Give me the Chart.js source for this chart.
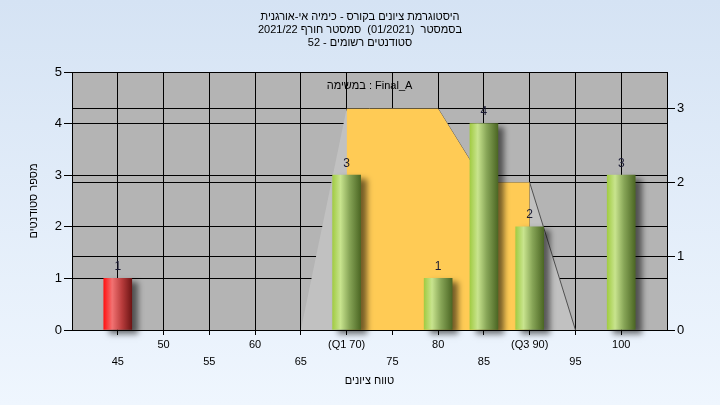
<!DOCTYPE html>
<html><head><meta charset="utf-8">
<script src="https://cdn.jsdelivr.net/npm/chart.js@4.4.0/dist/chart.umd.min.js"></script>
<style>
html,body{margin:0;padding:0;}
body{width:720px;height:405px;background:linear-gradient(to bottom,#d5e3f4,#eff6fe);overflow:hidden;}
canvas{display:block;}
</style></head><body>
<canvas id="c" width="720" height="405"></canvas>
<script>
const titleLines = ['היסטוגרמת ציונים בקורס - כימיה אי-אורגנית', 'בסמסטר  (01/2021)  סמסטר חורף 2021/22', 'סטודנטים רשומים - 52'];
const taskLabel = 'במשימה : Final_A';
const xAxisTitle = 'טווח ציונים';
const yAxisTitle = 'מספר סטודנטים';
const barGrades = [45, 70, 80, 85, 90, 100];
const barCounts = [1, 3, 1, 4, 2, 3];
const barKinds = ['fail', 'pass', 'pass', 'pass', 'pass', 'pass'];
const curveGrades = [65, 70, 75, 80, 85, 90, 95];
const curveValues = [0, 3, 3, 3, 2, 2, 0];
const quartileGrades = [70, 75, 80, 85, 90];
const quartileValues = [3, 3, 3, 2, 2];
const xTickValues = [45, 50, 55, 60, 65, 70, 75, 80, 85, 90, 95, 100];
const xTickLabels = ['45', '50', '55', '60', '65', '(Q1 70)', '75', '80', '85', '(Q3 90)', '95', '100'];
const leftTicks = [0, 1, 2, 3, 4, 5];
const rightTicks = [0, 1, 2, 3];

const FONT = "'Liberation Sans', Arial, sans-serif";

const bgPlugin = {
  id: 'bgPlugin',
  beforeDraw(chart) {
    const {ctx, chartArea: a} = chart;
    ctx.save();
    ctx.fillStyle = '#b4b4b4';
    ctx.fillRect(a.left, a.top, a.right - a.left, a.bottom - a.top);
    ctx.restore();
  }
};

const shadowPlugin = {
  id: 'shadowPlugin',
  beforeDatasetDraw(chart, args) {
    if (args.index !== 0) return;
    const ctx = chart.ctx;
    ctx.save();
    ctx.shadowColor = 'rgba(0,0,0,0.55)';
    ctx.shadowBlur = 6;
    ctx.shadowOffsetX = 6;
    ctx.shadowOffsetY = 4;
  },
  afterDatasetDraw(chart, args) {
    if (args.index !== 0) return;
    chart.ctx.restore();
  }
};

const labelPlugin = {
  id: 'labelPlugin',
  afterDatasetsDraw(chart) {
    const ctx = chart.ctx;
    const meta = chart.getDatasetMeta(0);
    ctx.save();
    ctx.font = '12px ' + FONT;
    ctx.fillStyle = '#1a1a33';
    ctx.textAlign = 'center';
    ctx.textBaseline = 'middle';
    meta.data.forEach((el, i) => {
      ctx.fillText(String(barCounts[i]), el.x, el.y - 12);
    });
    const a = chart.chartArea;
    ctx.font = '11px ' + FONT;
    ctx.fillStyle = '#000';
    ctx.fillText(taskLabel, (a.left + a.right) / 2, a.top + 14);
    ctx.restore();
  }
};

function barFill(c) {
  const chart = c.chart;
  const xs = chart.scales && chart.scales.x;
  if (!xs || c.dataIndex === undefined || !c.raw) return '#9c4';
  const cx = xs.getPixelForValue(c.raw.x);
  if (!isFinite(cx)) return '#9c4';
  const g = chart.ctx.createLinearGradient(cx - 14, 0, cx + 14, 0);
  if (barKinds[c.dataIndex] === 'fail') {
    g.addColorStop(0, '#ff1414');
    g.addColorStop(0.3, '#f27272');
    g.addColorStop(0.65, '#b83c3c');
    g.addColorStop(1, '#6e1515');
  } else {
    g.addColorStop(0, '#a2cc44');
    g.addColorStop(0.28, '#c8e48e');
    g.addColorStop(0.6, '#87a557');
    g.addColorStop(1, '#4c6724');
  }
  return g;
}

new Chart(document.getElementById('c'), {
  type: 'bar',
  data: {
    datasets: [
      {
        type: 'bar',
        order: 0,
        yAxisID: 'y',
        data: barGrades.map((g, i) => ({x: g, y: barCounts[i]})),
        backgroundColor: barFill,
        borderWidth: 0,
        barThickness: 28,
        clip: false
      },
      {
        type: 'line',
        order: 1,
        yAxisID: 'y2',
        data: quartileGrades.map((g, i) => ({x: g, y: quartileValues[i]})),
        fill: 'origin',
        backgroundColor: '#ffcb55',
        borderWidth: 0,
        borderColor: 'rgba(0,0,0,0)',
        pointRadius: 0,
        tension: 0
      },
      {
        type: 'line',
        order: 2,
        yAxisID: 'y2',
        data: curveGrades.map((g, i) => ({x: g, y: curveValues[i]})),
        fill: 'origin',
        backgroundColor: '#c1c1c1',
        borderWidth: 1,
        borderColor: 'rgba(0,0,0,0)',
        segment: {
          borderColor: (s) => (s.p0DataIndex === 3 || s.p0DataIndex === 5) ? '#505050' : 'rgba(0,0,0,0)'
        },
        pointRadius: 0,
        tension: 0
      }
    ]
  },
  options: {
    responsive: false,
    animation: false,
    devicePixelRatio: 1,
    layout: {padding: 0},
    plugins: {
      legend: {display: false},
      tooltip: {enabled: false},
      title: {
        display: true,
        text: titleLines,
        color: '#000',
        font: {family: FONT, size: 11, weight: 'normal', lineHeight: 1.2},
        padding: {top: 10, bottom: 22.4}
      }
    },
    scales: {
      x: {
        type: 'linear',
        min: 40,
        max: 105,
        offset: false,
        afterBuildTicks: (s) => { s.ticks = xTickValues.map(v => ({value: v})); },
        afterFit: (s) => { s.height = 75; },
        grid: {color: '#000', lineWidth: 1, tickLength: 5, offset: false, tickColor: '#000'},
        border: {color: '#000'},
        ticks: {
          autoSkip: false,
          maxRotation: 0,
          padding: 2,
          color: '#000',
          font: {family: FONT, size: 11, lineHeight: 1.5},
          callback: (v) => {
            const i = xTickValues.indexOf(v);
            if (i < 0) return '';
            return i % 2 === 0 ? ['', xTickLabels[i]] : [xTickLabels[i]];
          }
        },
        title: {
          display: true,
          text: xAxisTitle,
          color: '#000',
          font: {family: FONT, size: 11, lineHeight: 1.2},
          padding: {top: 0, bottom: 17.4}
        }
      },
      y: {
        position: 'left',
        min: 0,
        max: 5,
        afterBuildTicks: (s) => { s.ticks = leftTicks.map(v => ({value: v})); },
        afterFit: (s) => { s.width = 72; },
        grid: {color: '#000', lineWidth: 1, tickLength: 8, tickColor: '#000'},
        border: {color: '#000'},
        ticks: {padding: 2, color: '#000', font: {family: FONT, size: 13}},
        title: {
          display: true,
          text: yAxisTitle,
          color: '#000',
          font: {family: FONT, size: 11, lineHeight: 1.2},
          padding: {top: 27.5, bottom: 0}
        }
      },
      y2: {
        position: 'right',
        min: 0,
        max: 3.5,
        afterBuildTicks: (s) => { s.ticks = rightTicks.map(v => ({value: v})); },
        afterFit: (s) => { s.width = 53; },
        grid: {color: '#000', lineWidth: 1, tickLength: 8, tickColor: '#000', drawOnChartArea: true},
        border: {color: '#000'},
        ticks: {padding: 2, color: '#000', font: {family: FONT, size: 13}}
      }
    }
  },
  plugins: [bgPlugin, shadowPlugin, labelPlugin]
});
</script>
</body></html>
